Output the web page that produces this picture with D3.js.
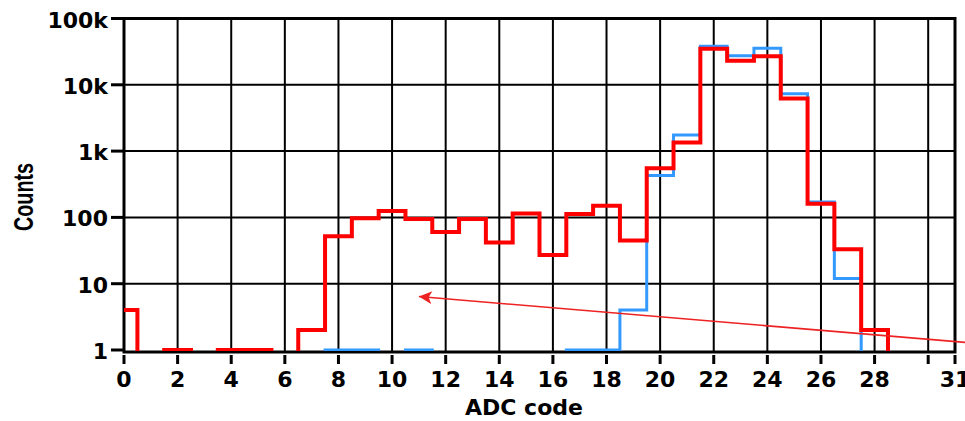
<!DOCTYPE html>
<html>
<head>
<meta charset="utf-8">
<script src="https://cdn.jsdelivr.net/npm/d3@7"></script>
<style>
  html, body { margin: 0; padding: 0; background: #fff; }
  svg { display: block; }
</style>
</head>
<body>
<svg id="chart" width="965" height="421"></svg>
<script>
// ---- data ----
const adcCodes   = [0,1,2,3,4,5,6,7,8,9,10,11,12,13,14,15,16,17,18,19,20,21,22,23,24,25,26,27,28];
const redCounts  = [4,0,1,0,1,1,0,2,52,97,125,95,60,95,42,115,27,113,150,45,550,1350,35000,23000,27000,6200,160,33,2];
const blueCounts = [0,0,0,0,0,0,0,0,1,1,0,1,0,0,0,0,0,1,1,4,430,1750,38000,27500,35500,7300,170,12,0];
const xTickValues = [0,2,4,6,8,10,12,14,16,18,20,22,24,26,28,30,31];
const xTickLabels = ["0","2","4","6","8","10","12","14","16","18","20","22","24","26","28","","31"];
const yTickValues = [1,10,100,1000,10000,100000];
const yTickLabels = ["1","10","100","1k","10k","100k"];
const arrowFrom = {code: 31.4, count: 1.3};
const arrowTo   = {code: 11.0, count: 6.4};

(function () {
// ---- layout ----
const svg = d3.select("#chart");
const pLeft = 124, pRight = 955, pTop = 18.5, bottomData = 350, bottomFrame = 352;
const x = d3.scaleLinear().domain([0, 31]).range([pLeft, pRight]);
const y = d3.scaleLog().domain([1, 100000]).range([bottomData, pTop]);
const FONT = "'DejaVu Sans', Verdana, sans-serif";

// grid
const grid = svg.append("g");
grid.selectAll("line.vg").data(xTickValues.filter(v => v > 0 && v < 31))
  .join("line").attr("x1", d => x(d)).attr("x2", d => x(d))
  .attr("y1", pTop).attr("y2", bottomFrame)
  .attr("stroke", "#000").attr("stroke-width", 2);
grid.selectAll("line.hg").data(yTickValues.filter(v => v > 1 && v < 100000))
  .join("line").attr("x1", pLeft).attr("x2", pRight)
  .attr("y1", d => y(d)).attr("y2", d => y(d))
  .attr("stroke", "#000").attr("stroke-width", 2);

// frame
svg.append("rect").attr("x", pLeft).attr("y", pTop)
  .attr("width", pRight - pLeft).attr("height", bottomFrame - pTop)
  .attr("fill", "none").attr("stroke", "#000").attr("stroke-width", 3);

// clip
svg.append("clipPath").attr("id", "plotClip").append("rect")
  .attr("x", pLeft).attr("y", pTop - 5).attr("width", pRight - pLeft).attr("height", 351 - (pTop - 5));

const yv = v => v > 0 ? y(v) : bottomData + 30;
function stepData(counts) {
  const pts = adcCodes.map((c, i) => ({x: c - 0.5, v: counts[i]}));
  pts.push({x: adcCodes[adcCodes.length - 1] + 0.5, v: 0});
  return pts;
}
const line = d3.line().x(d => x(d.x)).y(d => yv(d.v)).curve(d3.curveStepAfter);

const plot = svg.append("g").attr("clip-path", "url(#plotClip)");
plot.append("path").attr("d", line(stepData(blueCounts)))
  .attr("fill", "none").attr("stroke", "#3399ff").attr("stroke-width", 3)
  .attr("stroke-linejoin", "miter");
plot.append("path").attr("d", line(stepData(redCounts)))
  .attr("fill", "none").attr("stroke", "#ff0000").attr("stroke-width", 4)
  .attr("stroke-linejoin", "miter");

// y axis ticks + labels
svg.selectAll("line.yt").data(yTickValues).join("line")
  .attr("x1", 111).attr("x2", pLeft).attr("y1", d => y(d)).attr("y2", d => y(d))
  .attr("stroke", "#000").attr("stroke-width", 3);
svg.selectAll("text.yl").data(yTickValues).join("text")
  .attr("x", 108).attr("y", d => y(d) + 9)
  .attr("text-anchor", "end").attr("font-family", FONT).attr("font-weight", "bold")
  .attr("font-size", 22).attr("fill", "#000")
  .text((d, i) => yTickLabels[i]);

// x axis ticks + labels
svg.selectAll("line.xt").data(xTickValues).join("line")
  .attr("x1", d => x(d)).attr("x2", d => x(d)).attr("y1", 355).attr("y2", 364)
  .attr("stroke", "#000").attr("stroke-width", 3);
svg.selectAll("text.xl").data(xTickValues).join("text")
  .attr("x", d => x(d)).attr("y", 387)
  .attr("text-anchor", "middle").attr("font-family", FONT).attr("font-weight", "bold")
  .attr("font-size", 22).attr("fill", "#000")
  .text((d, i) => xTickLabels[i]);

// axis titles
svg.append("text").attr("x", 524).attr("y", 415)
  .attr("text-anchor", "middle").attr("font-family", FONT).attr("font-weight", "bold")
  .attr("font-size", 22).attr("fill", "#000").text("ADC code");
svg.append("text").attr("transform", "translate(33,197) rotate(-90)")
  .attr("text-anchor", "middle").attr("font-family", "'Liberation Sans', Arial, sans-serif")
  .attr("font-weight", "bold").attr("font-size", 28)
  .attr("textLength", 68).attr("lengthAdjust", "spacingAndGlyphs")
  .attr("fill", "#000").text("Counts");

// annotation arrow
svg.append("defs").append("marker").attr("id", "arrowHead")
  .attr("viewBox", "0 0 10 10").attr("refX", 10).attr("refY", 5)
  .attr("markerWidth", 16).attr("markerHeight", 13).attr("markerUnits", "userSpaceOnUse")
  .attr("orient", "auto")
  .append("path").attr("d", "M0,0 L10,5 L0,10 L2.5,5 Z").attr("fill", "#ee2222");
svg.append("line")
  .attr("x1", x(arrowFrom.code)).attr("y1", y(arrowFrom.count))
  .attr("x2", x(arrowTo.code)).attr("y2", y(arrowTo.count))
  .attr("stroke", "#ee2222").attr("stroke-width", 1.6)
  .attr("marker-end", "url(#arrowHead)");
})();
</script>
</body>
</html>
